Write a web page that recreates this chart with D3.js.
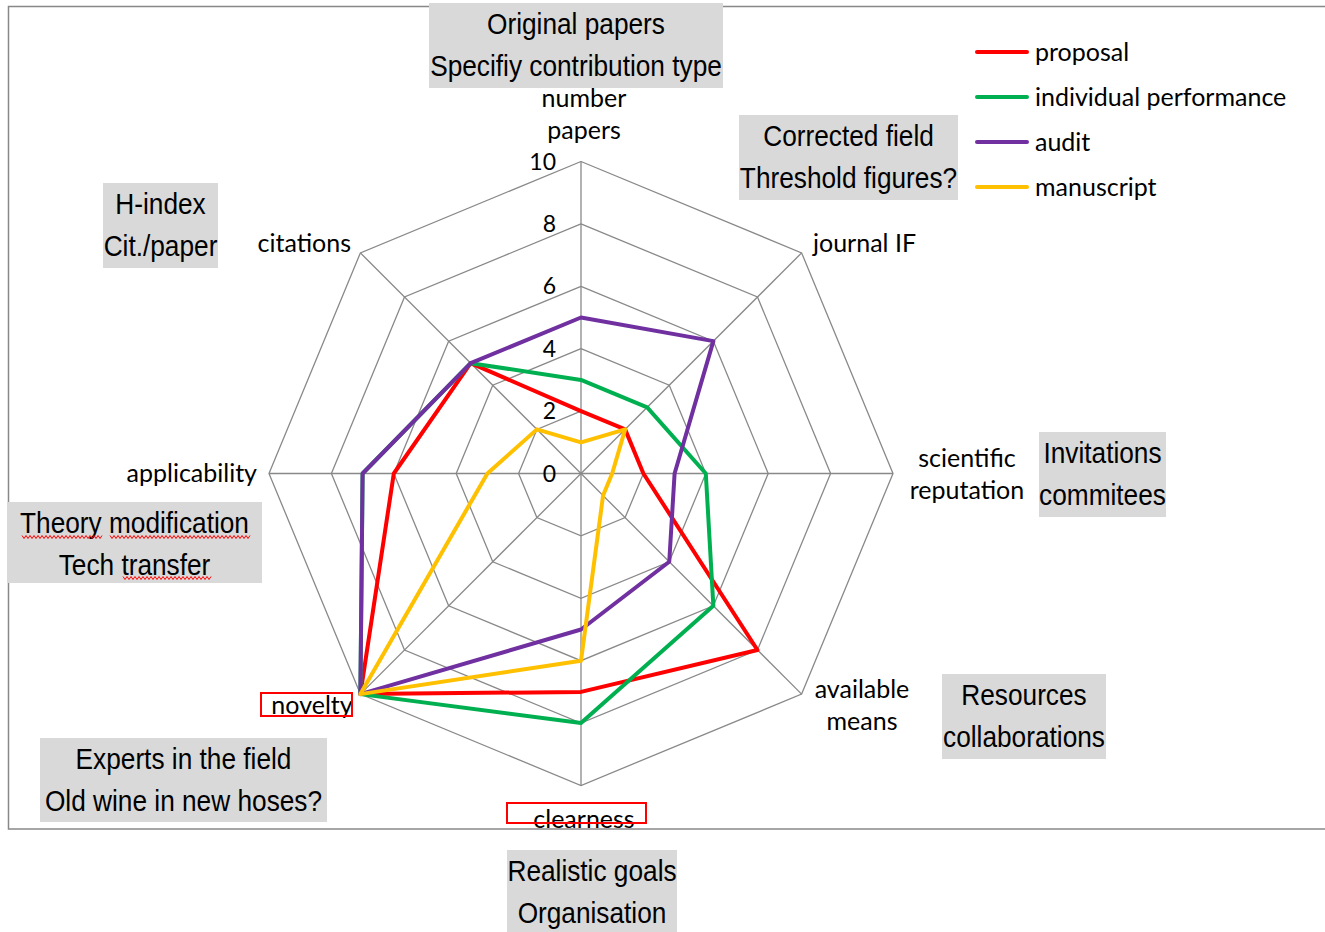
<!DOCTYPE html>
<html>
<head>
<meta charset="utf-8">
<script src="https://cdn.jsdelivr.net/npm/d3@7"></script>
<style>
  body { margin: 0; background: #fff; }
  svg { display: block; }
  .lbl { font-family: Lato, "Open Sans", sans-serif; font-size: 25px; fill: #000; }
  .tick { font-family: Lato, "Open Sans", sans-serif; font-size: 23px; fill: #000; }
  .note { font-family: "Liberation Sans Narrow", "Arial Narrow", "Liberation Sans", sans-serif; font-size: 30px; fill: #000; }
</style>
</head>
<body>
<svg id="chart" width="1325" height="932"></svg>
<script>
// radar categories, clockwise from the top
var axes = ["number papers", "journal IF", "scientific reputation", "available means",
            "clearness", "novelty", "applicability", "citations"];
var ticks = [0, 2, 4, 6, 8, 10];

var seriesNames = ["proposal", "individual performance", "audit", "manuscript"];
var proposal   = [2, 2, 2, 8, 7, 10, 6, 5];
var individual = [3, 3, 4, 6, 8, 10, 7, 5];
var audit      = [5, 6, 3, 4, 5, 10, 7, 5];
var manuscript = [1, 2, 1, 1, 6, 10, 3, 2];

var notes = [
  ["Original papers", "Specifiy contribution type"],
  ["Corrected field", "Threshold figures?"],
  ["H-index", "Cit./paper"],
  ["Invitations", "commitees"],
  ["Theory modification", "Tech transfer"],
  ["Resources", "collaborations"],
  ["Experts in the field", "Old wine in new hoses?"],
  ["Realistic goals", "Organisation"]
];

var colors = ["#ff0000", "#00b050", "#7030a0", "#ffc000"];
var allSeries = [proposal, individual, audit, manuscript];

var svg = d3.select("#chart");
var cx = 581, cy = 473.5;

var r = d3.scaleLinear().domain([0, 10]).range([0, 312]);
var ang = d3.scalePoint().domain(d3.range(axes.length + 1)).range([0, 2 * Math.PI]);
function pt(i, v) {
  var a = ang(i % axes.length);
  return [cx + r(v) * Math.sin(a), cy - r(v) * Math.cos(a)];
}

// chart frame
svg.append("rect").attr("x", 8.5).attr("y", 6.5).attr("width", 1330).attr("height", 822.5)
  .attr("fill", "none").attr("stroke", "#888").attr("stroke-width", 1.5);

var g = svg.append("g");

// rings
var ring = d3.line();
ticks.filter(t => t > 0).forEach(t => {
  g.append("path")
    .attr("d", ring(d3.range(axes.length + 1).map(i => pt(i, t))))
    .attr("fill", "none").attr("stroke", "#898989").attr("stroke-width", 1.3);
});
// spokes
axes.forEach((a, i) => {
  var p = pt(i, 10);
  g.append("line").attr("x1", cx).attr("y1", cy).attr("x2", p[0]).attr("y2", p[1])
    .attr("stroke", "#898989").attr("stroke-width", 1.3);
});

// tick labels
ticks.forEach(t => {
  g.append("text").attr("class", "tick")
    .attr("x", 556).attr("y", cy - r(t) + 8)
    .attr("text-anchor", "end").text(t);
});

// series
var line = d3.line().curve(d3.curveLinearClosed);
allSeries.forEach((s, k) => {
  g.append("path")
    .attr("d", line(s.map((v, i) => pt(i, v))))
    .attr("fill", "none").attr("stroke", colors[k]).attr("stroke-width", 4)
    .attr("stroke-linejoin", "round");
});

// axis labels
var axisPos = [
  {x: 584, y: [107, 139], anchor: "middle", lines: ["number", "papers"]},
  {x: 813, y: [252], anchor: "start", lines: ["journal IF"]},
  {x: 967, y: [467, 499], anchor: "middle", lines: ["scientific", "reputation"]},
  {x: 862, y: [698, 730], anchor: "middle", lines: ["available", "means"]},
  {x: 584, y: [828], anchor: "middle", lines: ["clearness"]},
  {x: 312, y: [714], anchor: "middle", lines: ["novelty"]},
  {x: 257, y: [482], anchor: "end", lines: ["applicability"]},
  {x: 351, y: [252], anchor: "end", lines: ["citations"]}
];
axes.forEach((a, i) => {
  var p = axisPos[i];
  p.lines.forEach((l, j) => {
    svg.append("text").attr("class", "lbl").attr("x", p.x).attr("y", p.y[j])
      .attr("text-anchor", p.anchor).text(l);
  });
});

// red boxes round two labels
[[261, 693, 91, 23], [507, 803, 139, 20]].forEach(b => {
  svg.append("rect").attr("x", b[0]).attr("y", b[1]).attr("width", b[2]).attr("height", b[3])
    .attr("fill", "none").attr("stroke", "#ff0000").attr("stroke-width", 2);
});

// grey notes (narrow face, squeezed horizontally)
var noteBox = [
  [429, 3, 294, 85], [739, 115, 219, 85], [103, 183, 115, 85], [1039, 432, 127, 85],
  [7, 502, 255, 81], [942, 674, 164, 85], [40, 738, 287, 84], [507, 850, 170, 82]
];
notes.forEach((n, i) => {
  var b = noteBox[i];
  svg.append("rect").attr("x", b[0]).attr("y", b[1]).attr("width", b[2]).attr("height", b[3])
    .attr("fill", "#d9d9d9");
  n.forEach((l, j) => {
    svg.append("text").attr("class", "note")
      .attr("transform", "translate(" + (b[0] + b[2] / 2) + "," + (b[1] + 31 + j * 42) + ") scale(0.875,1)")
      .attr("text-anchor", "middle").text(l);
  });
});

// spell-check squiggles
function squiggle(x0, x1, y) {
  var pts = [];
  for (var x = x0, k = 0; x <= x1; x += 2, k++) pts.push([x, y + (k % 2 ? 1.5 : -1.5)]);
  svg.append("path").attr("d", d3.line()(pts)).attr("fill", "none")
    .attr("stroke", "#ff0000").attr("stroke-width", 1);
}
squiggle(22, 102, 537);
squiggle(110, 250, 537);
squiggle(123, 212, 578);

// legend
var leg = svg.append("g").attr("transform", "translate(975,52)");
seriesNames.forEach((n, k) => {
  var row = leg.append("g").attr("transform", "translate(0," + k * 45 + ")");
  row.append("line").attr("x1", 2).attr("x2", 52).attr("stroke", colors[k])
    .attr("stroke-width", 4).attr("stroke-linecap", "round");
  row.append("text").attr("class", "lbl").attr("x", 60).attr("y", 9).text(n);
});
</script>
</body>
</html>
